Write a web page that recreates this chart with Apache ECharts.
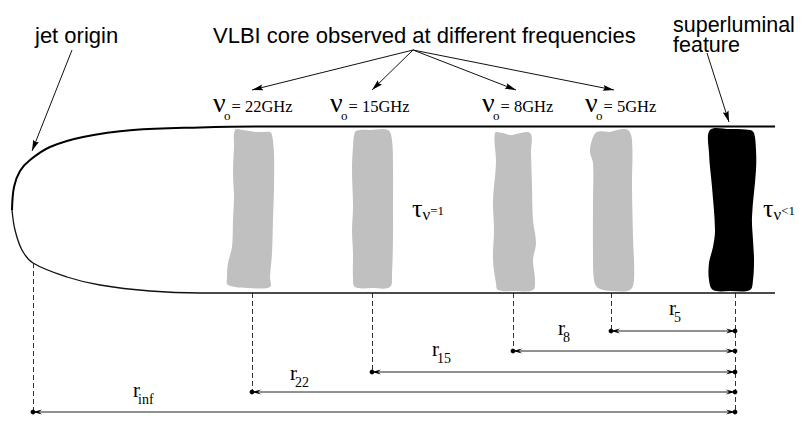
<!DOCTYPE html>
<html><head><meta charset="utf-8">
<script src="https://cdn.jsdelivr.net/npm/echarts@6/dist/echarts.min.js"></script>
<style>html,body{margin:0;padding:0;background:#fff}#c{width:807px;height:426px}</style>
</head><body><div id="c"></div>
<script>
// ---------- values (diagram units) ----------
const titleText = 'VLBI core observed at different frequencies';
const originText = 'jet origin';
const featureText = 'superluminal\nfeature';
const coreFreqs = ['22GHz', '15GHz', '8GHz', '5GHz'];
const coreX = [252, 372, 513, 611];
const freqLabelX = [213, 330, 482, 585];
const featureX = 735;
const originX = 33;

const distSubs = ['5', '8', '15', '22', 'inf'];
const distStartX = [611, 513, 372, 252, 33];
const distY = [331, 351, 372, 392, 412];
const distLabelX = [669, 558, 432, 290, 133];
const distLabelBase = [315, 335, 356, 380, 397];

const tauText = ['=1', '<1'];
const tauX = [412, 763];

// jet boundary
const jetTop = [[775,126.5],[267,126.5],[200,127.5],[133,130],[83,137],[50,147],[30,160],[20,171],[14,187],[12,210]];
const jetBottom = [[12,210],[15,230],[22,250],[33,263],[67,277],[100,285],[150,291],[200,293],[253,293],[775,293]];

// emission regions (outlines)
const blob22 = [[235,130],[243,130],[257,132],[270,132],[272,135],[274,153],[274,187],[273,220],[272,253],[270,277],[270,287],[250,288],[228,285],[227,277],[228,263],[232,247],[233,220],[234,197],[233,173],[234,147]];
const blob15 = [[355,132],[360,130],[370,130],[388,130],[392,140],[393,170],[393,207],[393,237],[392,273],[390,287],[372,288],[355,287],[353,277],[353,253],[352,230],[353,207],[352,170],[353,147]];
const blob8 = [[495,133],[503,133],[510,135],[530,133],[531,153],[532,187],[533,220],[536,243],[533,260],[535,280],[533,290],[515,291],[498,290],[496,283],[493,260],[494,230],[493,200],[496,163]];
const blob5 = [[597,132],[610,132],[617,130],[628,130],[632,140],[632,187],[633,237],[634,280],[630,290],[612,291],[598,288],[594,280],[593,253],[593,203],[593,163],[590,152],[592,140]];
const blobFeature = [[710,130],[730,129],[750,130],[754,133],[756,150],[756,170],[752,217],[753,240],[754,260],[753,280],[750,290],[730,291],[713,290],[709,280],[709,263],[713,247],[715,230],[712,187],[709,153]];

// pointer arrows
const titleArrowFrom = [413, 50];
const titleArrowY = 90;
const originArrow = [72, 50, 32, 151];
const featureArrow = [707, 53, 729, 122];
// ---------------------------------------------------------------------------

const SANS = '"Liberation Sans", Arial, sans-serif';
const SERIF = '"Liberation Serif", "Times New Roman", serif';
function shiftPad(s) { return s >= 0 ? [2 * s, 0, 0, 0] : [0, 0, -2 * s, 0]; }

function head(tip, from, len, half, notch) {
  const dx = tip[0] - from[0], dy = tip[1] - from[1];
  const d = Math.hypot(dx, dy) || 1, ux = dx / d, uy = dy / d, nx = -uy, ny = ux;
  const bx = tip[0] - ux * len, by = tip[1] - uy * len;
  return [tip, [bx + nx * half, by + ny * half], [tip[0] - ux * len * notch, tip[1] - uy * len * notch], [bx - nx * half, by - ny * half]];
}

const blobs = [blob22, blob15, blob8, blob5, blobFeature];
const blobColors = ['#c0c0c0', '#c0c0c0', '#c0c0c0', '#c0c0c0', '#000000'];

const pointerData = coreX.map(x => [titleArrowFrom[0], titleArrowFrom[1], x + (x > 500 ? 3 : 0), titleArrowY])
  .concat([originArrow, featureArrow]);

const dashData = distStartX.map((x, i) => [x, x === originX ? 263 : 293, x, distY[i]])
  .concat([[featureX, 293, featureX, Math.max(...distY)]]);

const dimData = distStartX.map((x, i) => [x, distY[i], featureX, distY[i]]);

function textSeries(data, styleFn) {
  return {
    type: 'custom', silent: true, data: data,
    encode: { x: 0, y: 1 },
    renderItem: function (params, api) {
      const p = api.coord([api.value(0), api.value(1)]);
      const st = styleFn(params.dataIndex);
      return { type: 'text', x: p[0], y: p[1], style: Object.assign({ fill: '#000', align: 'left', verticalAlign: 'middle' }, st) };
    }
  };
}

const chart = echarts.init(document.getElementById('c'), null, { renderer: 'svg' });
chart.setOption({
  animation: false,
  backgroundColor: '#fff',
  grid: { left: 0, right: 0, top: 0, bottom: 0 },
  xAxis: { type: 'value', min: 0, max: 807, show: false },
  yAxis: { type: 'value', min: 0, max: 426, inverse: true, show: false },
  series: [
    // emission regions
    {
      type: 'custom', silent: true,
      data: blobs.map((b, i) => [b[0][0], b[0][1], i]),
      encode: { x: 0, y: 1 },
      renderItem: function (params, api) {
        const i = api.value(2);
        const pts = blobs[i].map(pt => api.coord(pt));
        return { type: 'polygon', shape: { points: pts, smooth: 0.35 }, style: { fill: blobColors[i], stroke: null } };
      }
    },
    // jet boundary
    { type: 'line', data: jetTop, smooth: 0.35, symbol: 'none', silent: true, lineStyle: { color: '#000', width: 2 } },
    { type: 'line', data: jetBottom, smooth: 0.35, symbol: 'none', silent: true, lineStyle: { color: '#111', width: 1.3 } },
    // dashed projection lines
    {
      type: 'custom', silent: true, data: dashData, encode: { x: [0, 2], y: [1, 3] },
      renderItem: function (params, api) {
        const a = api.coord([api.value(0), api.value(1)]), b = api.coord([api.value(2), api.value(3)]);
        return { type: 'line', shape: { x1: a[0] + 0.5, y1: a[1], x2: b[0] + 0.5, y2: b[1] }, style: { stroke: '#333', lineWidth: 1, lineDash: [5, 3] } };
      }
    },
    // distance arrows
    {
      type: 'custom', silent: true, data: dimData, encode: { x: [0, 2], y: [1, 3] },
      renderItem: function (params, api) {
        const a = api.coord([api.value(0), api.value(1)]), b = api.coord([api.value(2), api.value(3)]);
        return {
          type: 'group', children: [
            { type: 'line', shape: { x1: a[0], y1: a[1], x2: b[0], y2: b[1] }, style: { stroke: '#222', lineWidth: 1 } },
            { type: 'polygon', shape: { points: head(a, b, 9, 2.6, 0.65) }, style: { fill: '#000' } },
            { type: 'polygon', shape: { points: head(b, a, 9, 2.6, 0.65) }, style: { fill: '#000' } },
            { type: 'circle', shape: { cx: a[0], cy: a[1], r: 2.4 }, style: { fill: '#000' } },
            { type: 'circle', shape: { cx: b[0], cy: b[1], r: 2.4 }, style: { fill: '#000' } }
          ]
        };
      }
    },
    // pointer arrows
    {
      type: 'custom', silent: true, data: pointerData, encode: { x: [0, 2], y: [1, 3] },
      renderItem: function (params, api) {
        const a = api.coord([api.value(0), api.value(1)]), b = api.coord([api.value(2), api.value(3)]);
        return {
          type: 'group', children: [
            { type: 'line', shape: { x1: a[0], y1: a[1], x2: b[0], y2: b[1] }, style: { stroke: '#111', lineWidth: 1 } },
            { type: 'polygon', shape: { points: head(b, a, 11, 3, 0.85) }, style: { fill: '#000' } }
          ]
        };
      }
    },
    // sans-serif annotations
    textSeries([[freqLabelX[0], 35.9], [35, 35.9], [673, 34.9]], function (i) {
      return [
        { text: titleText, font: '22px ' + SANS },
        { text: originText, font: '22px ' + SANS },
        { text: featureText, font: '21.5px ' + SANS, lineHeight: 20 }
      ][i];
    }),
    // frequency labels
    textSeries(freqLabelX.map(x => [x, 106.1]), function (i) {
      return {
        text: '{nu|ν}{o|o}{t|= ' + coreFreqs[i] + '}',
        rich: {
          nu: { fontFamily: SERIF, fontSize: 28, width: 11, padding: shiftPad(-3.6) },
          o: { fontFamily: SERIF, fontSize: 13, padding: shiftPad(9.5) },
          t: { fontFamily: SERIF, fontSize: 16.5, padding: [0, 0, 0, 1] }
        }
      };
    }),
    // distance labels
    textSeries(distLabelX.map((x, i) => [x, distLabelBase[i] - 7.1]), function (i) {
      return {
        text: '{r|r}{s|' + distSubs[i] + '}',
        rich: {
          r: { fontFamily: SERIF, fontSize: 21, width: 5 },
          s: { fontFamily: SERIF, fontSize: 14, padding: shiftPad(9.4) }
        }
      };
    }),
    // optical depth labels
    textSeries(tauX.map(x => [x, 208.2]), function (i) {
      return {
        text: '{tau|τ}{nu|ν}{sup|' + tauText[i] + '}',
        rich: {
          tau: { fontFamily: SERIF, fontSize: 26 },
          nu: { fontFamily: SERIF, fontSize: 17, padding: shiftPad(5.9) },
          sup: { fontFamily: SERIF, fontSize: 13, padding: shiftPad(2.4) }
        }
      };
    })
  ]
});
</script></body></html>
